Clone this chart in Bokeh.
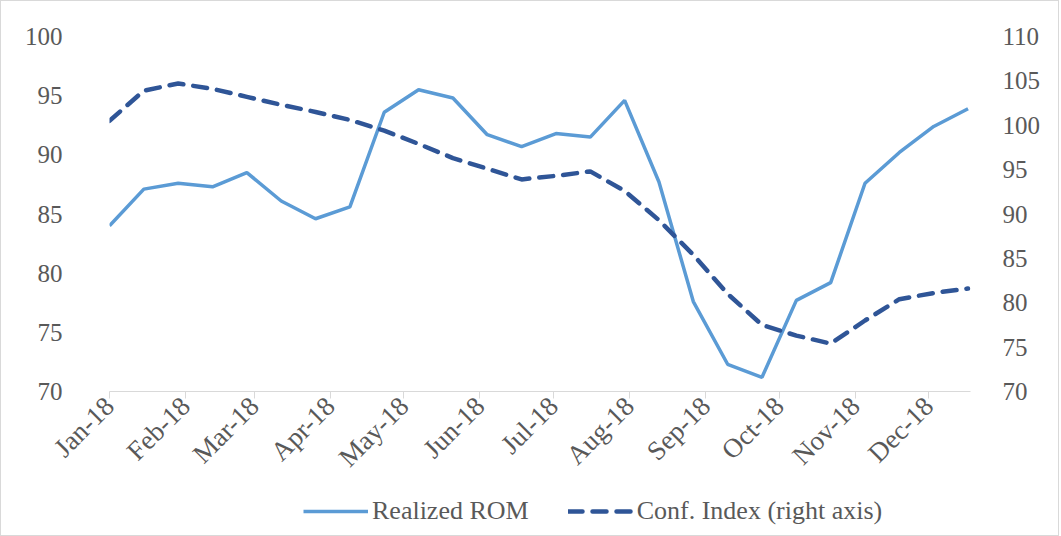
import pandas as pd
from bokeh.plotting import figure
from bokeh.layouts import column
from bokeh.models import (Range1d, LinearAxis, DatetimeAxis, FixedTicker, MonthsTicker,
                          DatetimeTickFormatter, Legend, LegendItem, ColumnDataSource)
from bokeh.embed import file_html
from bokeh.resources import INLINE
import math

dates = ["2018-01-01", "2018-01-15", "2018-01-29", "2018-02-12", "2018-02-26", "2018-03-12",
         "2018-03-26", "2018-04-09", "2018-04-23", "2018-05-07", "2018-05-21", "2018-06-04",
         "2018-06-18", "2018-07-02", "2018-07-16", "2018-07-30", "2018-08-13", "2018-08-27",
         "2018-09-10", "2018-09-24", "2018-10-08", "2018-10-22", "2018-11-05", "2018-11-19",
         "2018-12-03", "2018-12-17"]
realized_rom = [84.0, 87.1, 87.6, 87.3, 88.5, 86.1, 84.6, 85.6, 93.6, 95.5, 94.8, 91.7, 90.7,
                91.8, 91.5, 94.6, 87.7, 77.6, 72.3, 71.2, 77.7, 79.2, 87.6, 90.2, 92.4, 93.9]
conf_index = [100.5, 103.9, 104.7, 104.1, 103.2, 102.3, 101.5, 100.6, 99.4, 97.9, 96.3, 95.1,
              93.9, 94.3, 94.8, 92.6, 89.3, 85.4, 81.0, 77.5, 76.3, 75.4, 78.0, 80.4, 81.1, 81.6]
left_ticks = [70, 75, 80, 85, 90, 95, 100]
right_ticks = [70, 75, 80, 85, 90, 95, 100, 105, 110]
series_names = ["Realized ROM", "Conf. Index (right axis)"]

src = ColumnDataSource(dict(x=pd.to_datetime(dates), rom=realized_rom, conf=conf_index))

FONT = "Liberation Serif"
TXT = "#595959"
AX = "#D9D9D9"
ROM_STYLE = dict(line_color="#5B9BD5", line_width=3.5)
CONF_STYLE = dict(line_color="#2F5597", line_width=4.5, line_dash="14 10", line_cap="round")

p = figure(width=1057, height=485, output_backend="svg", toolbar_location=None,
           x_axis_type=None, y_axis_location=None,
           x_range=Range1d(pd.Timestamp("2018-01-01"), pd.Timestamp("2018-12-18")),
           y_range=Range1d(70, 100),
           min_border_left=108, min_border_right=88, min_border_top=35, min_border_bottom=93)
p.extra_y_ranges = {"right": Range1d(70, 110)}
p.outline_line_color = None
p.xgrid.visible = False
p.ygrid.visible = False

xaxis = DatetimeAxis(ticker=MonthsTicker(months=list(range(12))),
                     formatter=DatetimeTickFormatter(months="%b-%y", days="%b-%y"))
xaxis.axis_line_color = AX
xaxis.major_tick_line_color = AX
xaxis.major_tick_in = 0
xaxis.major_tick_out = 7
xaxis.minor_tick_line_color = None
xaxis.major_label_orientation = math.pi / 4
xaxis.major_label_text_font = FONT
xaxis.major_label_text_font_size = "27px"
xaxis.major_label_text_color = TXT
xaxis.major_label_standoff = 3
p.add_layout(xaxis, "below")

yl = LinearAxis(ticker=FixedTicker(ticks=left_ticks))
yr = LinearAxis(ticker=FixedTicker(ticks=right_ticks), y_range_name="right")
for ax in (yl, yr):
    ax.axis_line_color = None
    ax.major_tick_line_color = None
    ax.minor_tick_line_color = None
    ax.major_tick_out = 0
    ax.major_tick_in = 0
    ax.major_label_text_font = FONT
    ax.major_label_text_font_size = "25px"
    ax.major_label_text_color = TXT
yl.major_label_standoff = 47
yr.major_label_standoff = 32
p.add_layout(yl, "left")
p.add_layout(yr, "right")

p.line("x", "rom", source=src, **ROM_STYLE)
p.line("x", "conf", source=src, y_range_name="right", **CONF_STYLE)

# legend strip (its dummy lines lie outside its range, so only the legend shows)
pl = figure(width=1057, height=49, output_backend="svg", toolbar_location=None,
            x_axis_type=None, y_axis_type=None, x_range=Range1d(0, 1), y_range=Range1d(0, 1),
            min_border=0, outline_line_color=None)
pl.xgrid.visible = False
pl.ygrid.visible = False
d1 = pl.line(x=[-5, -4], y=[-5, -5], **ROM_STYLE)
d2 = pl.line(x=[-5, -4], y=[-5, -5], **CONF_STYLE)
legend = Legend(items=[LegendItem(label=series_names[0], renderers=[d1]),
                       LegendItem(label=series_names[1], renderers=[d2])],
                location=(194, 9), orientation="horizontal",
                label_text_font=FONT, label_text_font_size="26px", label_text_color=TXT,
                glyph_width=65, glyph_height=20, label_standoff=4, spacing=39,
                padding=0, margin=0, border_line_color=None, background_fill_alpha=0)
pl.add_layout(legend, "center")

layout = column(p, pl, spacing=0)
layout.styles = {"border": "1px solid #D9D9D9"}

open("out.html", "w").write(file_html(layout, INLINE))
